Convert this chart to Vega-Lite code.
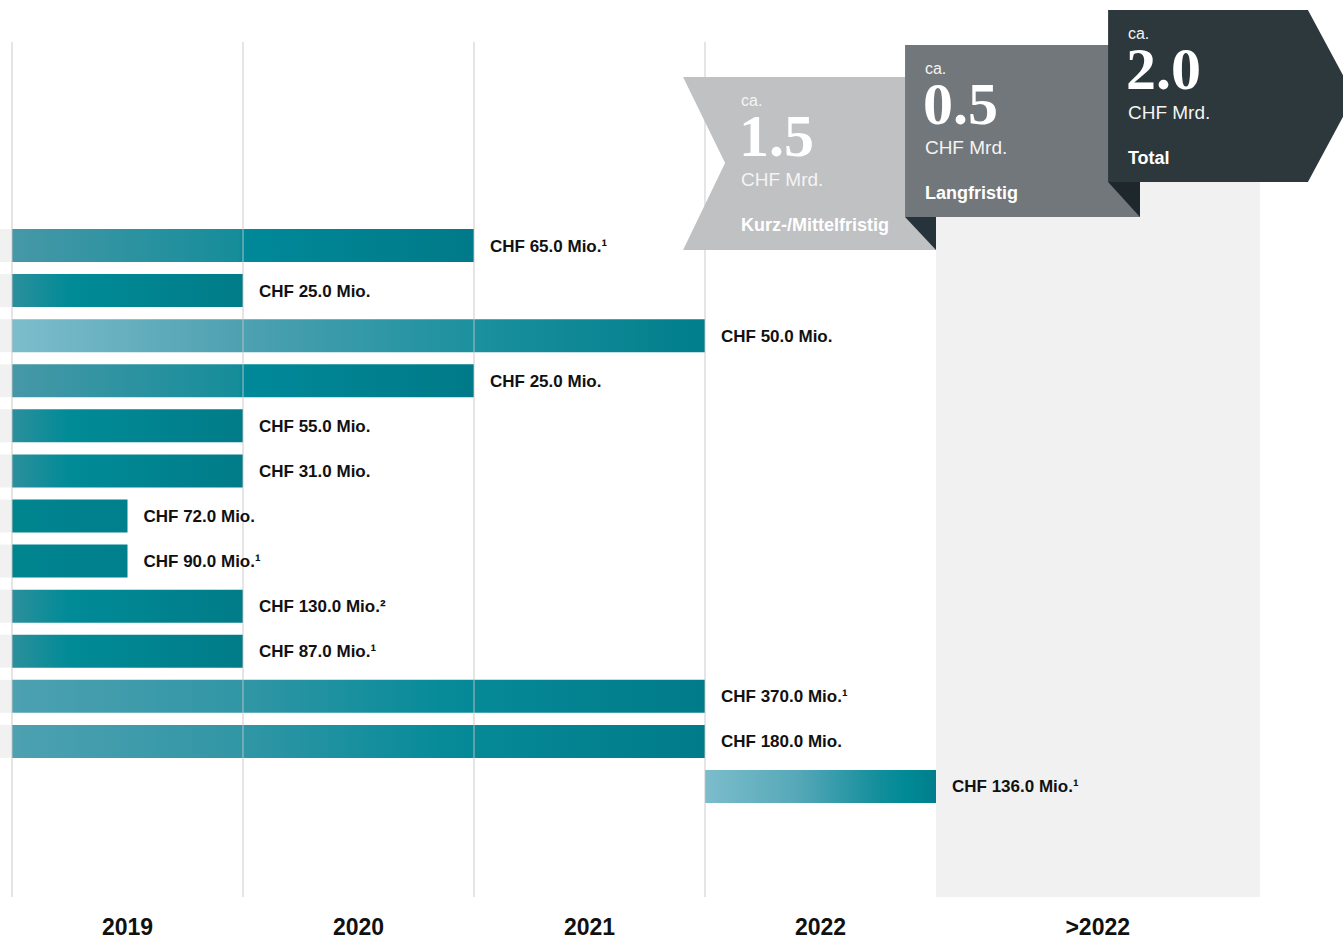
{
  "$schema": "https://vega.github.io/schema/vega-lite/v6.json",
  "width": 1343,
  "height": 941,
  "padding": 0,
  "autosize": {"type": "none"},
  "background": "#ffffff",
  "config": {"view": {"stroke": null}},
  "datasets": {
    "bars": [
      {"row": 1, "start": 0, "end": 2, "label": "CHF 65.0 Mio.¹"},
      {"row": 2, "start": 0, "end": 1, "label": "CHF 25.0 Mio."},
      {"row": 3, "start": 0, "end": 3, "label": "CHF 50.0 Mio."},
      {"row": 4, "start": 0, "end": 2, "label": "CHF 25.0 Mio."},
      {"row": 5, "start": 0, "end": 1, "label": "CHF 55.0 Mio."},
      {"row": 6, "start": 0, "end": 1, "label": "CHF 31.0 Mio."},
      {"row": 7, "start": 0, "end": 0.5, "label": "CHF 72.0 Mio."},
      {"row": 8, "start": 0, "end": 0.5, "label": "CHF 90.0 Mio.¹"},
      {"row": 9, "start": 0, "end": 1, "label": "CHF 130.0 Mio.²"},
      {"row": 10, "start": 0, "end": 1, "label": "CHF 87.0 Mio.¹"},
      {"row": 11, "start": 0, "end": 3, "label": "CHF 370.0 Mio.¹"},
      {"row": 12, "start": 0, "end": 3, "label": "CHF 180.0 Mio."},
      {"row": 13, "start": 3, "end": 4, "label": "CHF 136.0 Mio.¹"}
    ],
    "grid": [{"x": 0}, {"x": 1}, {"x": 2}, {"x": 3}],
    "zone": [{"from": 4, "to": 5.403, "top": -2.228, "bottom": 15.452}],
    "shapes": [
      {"shape": "light", "y": -2.737, "xa": 2.905, "xb": 4.0},
      {"shape": "light", "y": -0.830, "xa": 3.087, "xb": 4.0},
      {"shape": "light", "y": 1.100, "xa": 2.905, "xb": 4.0},
      {"shape": "lightFold", "y": 0.368, "xa": 3.866, "xb": 4.0},
      {"shape": "lightFold", "y": 1.100, "xa": 4.0, "xb": 4.0},
      {"shape": "mid", "y": -3.447, "xa": 3.866, "xb": 4.883},
      {"shape": "mid", "y": 0.368, "xa": 3.866, "xb": 4.883},
      {"shape": "midFold", "y": -0.409, "xa": 4.745, "xb": 4.883},
      {"shape": "midFold", "y": 0.368, "xa": 4.883, "xb": 4.883},
      {"shape": "dark", "y": -4.224, "xa": 4.745, "xb": 5.610},
      {"shape": "dark", "y": -2.316, "xa": 4.745, "xb": 5.810},
      {"shape": "dark", "y": -0.409, "xa": 4.745, "xb": 5.610}
    ],
    "btext": [
      {"kind": "ca", "x": 4.831, "y": -3.580, "text": "ca."},
      {"kind": "num", "x": 4.831, "y": -2.472, "text": "2.0"},
      {"kind": "unit", "x": 4.831, "y": -1.806, "text": "CHF Mrd."},
      {"kind": "label", "x": 4.831, "y": -0.808, "text": "Total"},
      {"kind": "ca", "x": 3.952, "y": -2.803, "text": "ca."},
      {"kind": "num", "x": 3.952, "y": -1.695, "text": "0.5"},
      {"kind": "unit", "x": 3.952, "y": -1.030, "text": "CHF Mrd."},
      {"kind": "label", "x": 3.952, "y": -0.031, "text": "Langfristig"},
      {"kind": "ca", "x": 3.156, "y": -2.091, "text": "ca."},
      {"kind": "num", "x": 3.156, "y": -0.983, "text": "1.5"},
      {"kind": "unit", "x": 3.156, "y": -0.320, "text": "CHF Mrd."},
      {"kind": "label", "x": 3.156, "y": 0.678, "text": "Kurz-/Mittelfristig"}
    ],
    "years": [
      {"mid": 0.5, "year": "2019"},
      {"mid": 1.5, "year": "2020"},
      {"mid": 2.5, "year": "2021"},
      {"mid": 3.5, "year": "2022"},
      {"mid": 4.70, "year": ">2022"}
    ]
  },
  "layer": [
    {
      "data": {"name": "zone"},
      "mark": {"type": "rect", "color": "#f1f1f1"},
      "encoding": {
        "x": {"field": "from", "type": "quantitative", "axis": null, "scale": {"domain": [-0.05195, 5.7619], "nice": false, "zero": false, "padding": 0}},
        "x2": {"field": "to"},
        "y": {"field": "top", "type": "quantitative", "axis": null, "scale": {"domain": [-4.446, 16.428], "reverse": true, "nice": false, "zero": false, "padding": 0}},
        "y2": {"field": "bottom"}
      }
    },
    {
      "data": {"name": "bars"},
      "transform": [{"filter": "datum.row <= 12"}],
      "mark": {"type": "bar", "orient": "horizontal", "height": 33, "color": "#f1f1f1"},
      "encoding": {
        "x": {"datum": -0.08, "type": "quantitative"},
        "x2": {"datum": 0},
        "y": {"field": "row", "type": "quantitative"}
      }
    },
    {
      "data": {"name": "bars"},
      "transform": [{"filter": {"field": "row", "oneOf": [1, 4]}}],
      "mark": {"type": "bar", "orient": "horizontal", "height": 33,
        "fill": {"gradient": "linear", "x1": 0, "y1": 0, "x2": 1, "y2": 0, "stops": [
          {"offset": 0, "color": "#4698a7"}, {"offset": 0.49, "color": "#168d9a"},
          {"offset": 0.5, "color": "#00899a"}, {"offset": 1, "color": "#007a88"}]}},
      "encoding": {
        "x": {"field": "start", "type": "quantitative"},
        "x2": {"field": "end"},
        "y": {"field": "row", "type": "quantitative"}
      }
    },
    {
      "data": {"name": "bars"},
      "transform": [{"filter": {"field": "row", "oneOf": [2, 5, 6, 9, 10]}}],
      "mark": {"type": "bar", "orient": "horizontal", "height": 33,
        "fill": {"gradient": "linear", "x1": 0, "y1": 0, "x2": 1, "y2": 0, "stops": [
          {"offset": 0, "color": "#2c8f9c"}, {"offset": 0.25, "color": "#008b97"},
          {"offset": 1, "color": "#007c88"}]}},
      "encoding": {
        "x": {"field": "start", "type": "quantitative"},
        "x2": {"field": "end"},
        "y": {"field": "row", "type": "quantitative"}
      }
    },
    {
      "data": {"name": "bars"},
      "transform": [{"filter": {"field": "row", "oneOf": [7, 8]}}],
      "mark": {"type": "bar", "orient": "horizontal", "height": 33,
        "fill": {"gradient": "linear", "x1": 0, "y1": 0, "x2": 1, "y2": 0, "stops": [
          {"offset": 0, "color": "#00858f"}, {"offset": 1, "color": "#00808d"}]}},
      "encoding": {
        "x": {"field": "start", "type": "quantitative"},
        "x2": {"field": "end"},
        "y": {"field": "row", "type": "quantitative"}
      }
    },
    {
      "data": {"name": "bars"},
      "transform": [{"filter": {"field": "row", "oneOf": [3]}}],
      "mark": {"type": "bar", "orient": "horizontal", "height": 33,
        "fill": {"gradient": "linear", "x1": 0, "y1": 0, "x2": 1, "y2": 0, "stops": [
          {"offset": 0, "color": "#7dbdcc"}, {"offset": 0.33, "color": "#4ea1b1"},
          {"offset": 0.67, "color": "#1b909e"}, {"offset": 1, "color": "#007e8b"}]}},
      "encoding": {
        "x": {"field": "start", "type": "quantitative"},
        "x2": {"field": "end"},
        "y": {"field": "row", "type": "quantitative"}
      }
    },
    {
      "data": {"name": "bars"},
      "transform": [{"filter": {"field": "row", "oneOf": [11, 12]}}],
      "mark": {"type": "bar", "orient": "horizontal", "height": 33,
        "fill": {"gradient": "linear", "x1": 0, "y1": 0, "x2": 1, "y2": 0, "stops": [
          {"offset": 0, "color": "#4da1b1"}, {"offset": 0.33, "color": "#3196a5"},
          {"offset": 0.62, "color": "#078b99"}, {"offset": 1, "color": "#007b89"}]}},
      "encoding": {
        "x": {"field": "start", "type": "quantitative"},
        "x2": {"field": "end"},
        "y": {"field": "row", "type": "quantitative"}
      }
    },
    {
      "data": {"name": "bars"},
      "transform": [{"filter": {"field": "row", "oneOf": [13]}}],
      "mark": {"type": "bar", "orient": "horizontal", "height": 33,
        "fill": {"gradient": "linear", "x1": 0, "y1": 0, "x2": 1, "y2": 0, "stops": [
          {"offset": 0, "color": "#7cbdcc"}, {"offset": 0.4, "color": "#56a8b8"},
          {"offset": 0.75, "color": "#138e9b"}, {"offset": 0.87, "color": "#008a96"},
          {"offset": 1, "color": "#007f8b"}]}},
      "encoding": {
        "x": {"field": "start", "type": "quantitative"},
        "x2": {"field": "end"},
        "y": {"field": "row", "type": "quantitative"}
      }
    },
    {
      "data": {"name": "grid"},
      "mark": {"type": "rule", "color": "#c4c4c4", "opacity": 0.6, "strokeWidth": 1.5},
      "encoding": {
        "x": {"field": "x", "type": "quantitative"},
        "y": {"datum": -3.513, "type": "quantitative"},
        "y2": {"datum": 15.452}
      }
    },
    {
      "data": {"name": "shapes"},
      "transform": [{"filter": "datum.shape === 'light'"}],
      "mark": {"type": "area", "orient": "horizontal", "color": "#c0c1c3"},
      "encoding": {
        "y": {"field": "y", "type": "quantitative"},
        "x": {"field": "xa", "type": "quantitative", "stack": null},
        "x2": {"field": "xb"}
      }
    },
    {
      "data": {"name": "shapes"},
      "transform": [{"filter": "datum.shape === 'lightFold'"}],
      "mark": {"type": "area", "orient": "horizontal", "color": "#26333a"},
      "encoding": {
        "y": {"field": "y", "type": "quantitative"},
        "x": {"field": "xa", "type": "quantitative", "stack": null},
        "x2": {"field": "xb"}
      }
    },
    {
      "data": {"name": "shapes"},
      "transform": [{"filter": "datum.shape === 'mid'"}],
      "mark": {"type": "area", "orient": "horizontal", "color": "#72777b"},
      "encoding": {
        "y": {"field": "y", "type": "quantitative"},
        "x": {"field": "xa", "type": "quantitative", "stack": null},
        "x2": {"field": "xb"}
      }
    },
    {
      "data": {"name": "shapes"},
      "transform": [{"filter": "datum.shape === 'midFold'"}],
      "mark": {"type": "area", "orient": "horizontal", "color": "#1e282c"},
      "encoding": {
        "y": {"field": "y", "type": "quantitative"},
        "x": {"field": "xa", "type": "quantitative", "stack": null},
        "x2": {"field": "xb"}
      }
    },
    {
      "data": {"name": "shapes"},
      "transform": [{"filter": "datum.shape === 'dark'"}],
      "mark": {"type": "area", "orient": "horizontal", "color": "#2c383c"},
      "encoding": {
        "y": {"field": "y", "type": "quantitative"},
        "x": {"field": "xa", "type": "quantitative", "stack": null},
        "x2": {"field": "xb"}
      }
    },
    {
      "data": {"name": "btext"},
      "transform": [{"filter": "datum.kind === 'ca'"}],
      "mark": {"type": "text", "align": "left", "baseline": "alphabetic", "color": "#f4f4f4", "font": "Liberation Sans, Arial, sans-serif", "fontSize": 16, "letterSpacing": 1.5},
      "encoding": {
        "x": {"field": "x", "type": "quantitative"},
        "y": {"field": "y", "type": "quantitative"},
        "text": {"field": "text"}
      }
    },
    {
      "data": {"name": "btext"},
      "transform": [{"filter": "datum.kind === 'num'"}],
      "mark": {"type": "text", "align": "left", "baseline": "alphabetic", "color": "#ffffff", "font": "Liberation Serif, DejaVu Serif, serif", "fontWeight": "bold", "fontSize": 60, "dx": -2},
      "encoding": {
        "x": {"field": "x", "type": "quantitative"},
        "y": {"field": "y", "type": "quantitative"},
        "text": {"field": "text"}
      }
    },
    {
      "data": {"name": "btext"},
      "transform": [{"filter": "datum.kind === 'unit'"}],
      "mark": {"type": "text", "align": "left", "baseline": "alphabetic", "color": "#f4f4f4", "font": "Liberation Sans, Arial, sans-serif", "fontSize": 19},
      "encoding": {
        "x": {"field": "x", "type": "quantitative"},
        "y": {"field": "y", "type": "quantitative"},
        "text": {"field": "text"}
      }
    },
    {
      "data": {"name": "btext"},
      "transform": [{"filter": "datum.kind === 'label'"}],
      "mark": {"type": "text", "align": "left", "baseline": "alphabetic", "color": "#ffffff", "font": "Liberation Sans, Arial, sans-serif", "fontWeight": "bold", "fontSize": 18},
      "encoding": {
        "x": {"field": "x", "type": "quantitative"},
        "y": {"field": "y", "type": "quantitative"},
        "text": {"field": "text"}
      }
    },
    {
      "data": {"name": "bars"},
      "mark": {"type": "text", "align": "left", "baseline": "middle", "dx": 16, "dy": 1, "color": "#111111", "font": "Liberation Sans, Arial, sans-serif", "fontWeight": "bold", "fontSize": 17},
      "encoding": {
        "x": {"field": "end", "type": "quantitative"},
        "y": {"field": "row", "type": "quantitative"},
        "text": {"field": "label"}
      }
    },
    {
      "data": {"name": "years"},
      "mark": {"type": "text", "align": "center", "baseline": "alphabetic", "color": "#111111", "font": "Liberation Sans, Arial, sans-serif", "fontWeight": "bold", "fontSize": 23},
      "encoding": {
        "x": {"field": "mid", "type": "quantitative"},
        "y": {"datum": 16.29, "type": "quantitative"},
        "text": {"field": "year"}
      }
    }
  ]
}
